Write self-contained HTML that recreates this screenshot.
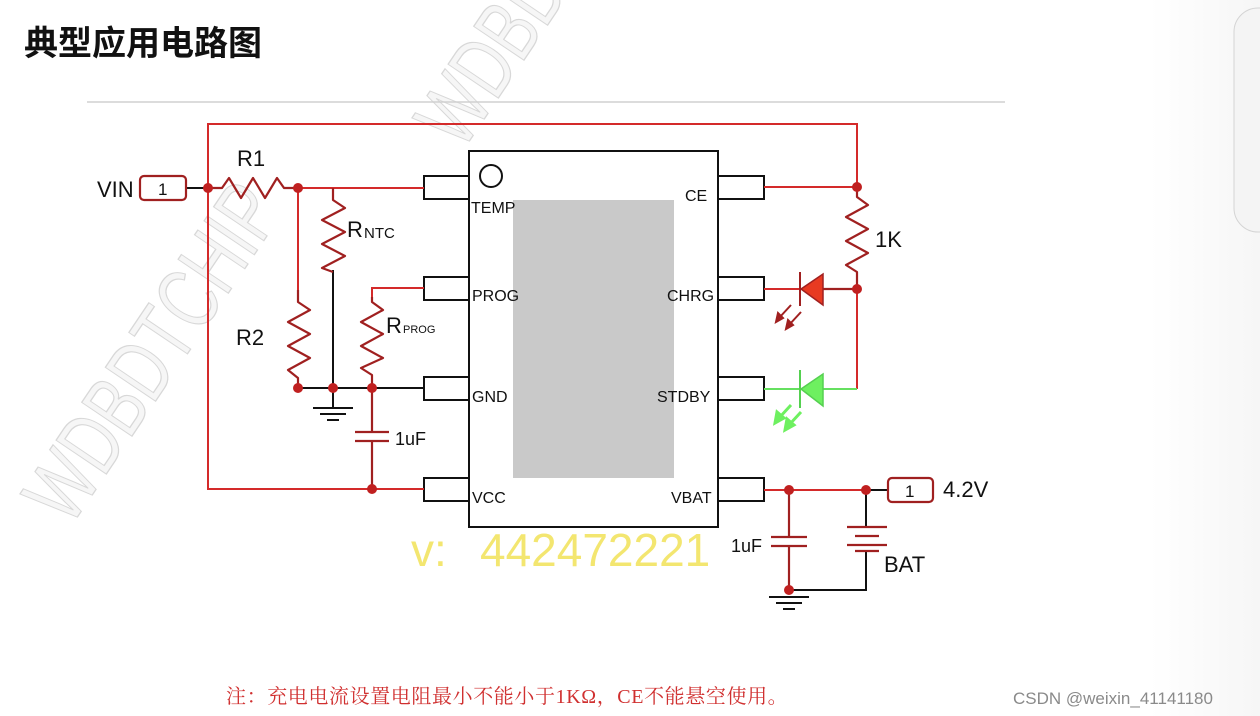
<!DOCTYPE html>
<html><head><meta charset="utf-8"><style>
html,body{margin:0;padding:0;background:#fff;}
svg{display:block;}
</style></head><body>
<svg width="1260" height="716" viewBox="0 0 1260 716" xmlns="http://www.w3.org/2000/svg">
<defs>
<linearGradient id="rg" x1="0" x2="1"><stop offset="0" stop-color="#fff"/><stop offset="1" stop-color="#f0f0f0"/></linearGradient>
</defs>
<rect width="1260" height="716" fill="#fff"/>
<rect x="1150" y="0" width="110" height="716" fill="url(#rg)" opacity="0.6"/>
<rect x="1234" y="8" width="60" height="224" rx="24" fill="#f4f4f4" stroke="#d4d4d4"/>

<!-- watermark -->
<g font-family="Liberation Sans, sans-serif" font-size="88" fill="#f6f6f6" stroke="#d8d8d8" stroke-width="1.3">
<text transform="translate(70,528) rotate(-56) scale(0.72,1)">WDBDTCHIP</text>
<text transform="translate(462,152) rotate(-56) scale(0.72,1)">WDBDTCHIP</text>
</g>

<text x="24" y="55" font-family="Liberation Sans, Noto Sans CJK SC, sans-serif" font-size="34" font-weight="bold" fill="#111">典型应用电路图</text>
<line x1="87" y1="102" x2="1005" y2="102" stroke="#d0d0d0" stroke-width="1.5"/>

<g font-family="Liberation Sans, sans-serif">
<rect x="513" y="200" width="161" height="278" fill="#c9c9c9"/>
<rect x="469" y="151" width="249" height="376" fill="none" stroke="#111" stroke-width="2"/>
<circle cx="491" cy="176" r="11" fill="none" stroke="#111" stroke-width="2"/>
<g fill="none" stroke="#111" stroke-width="2">
<rect x="424" y="176" width="45" height="23"/><rect x="424" y="277" width="45" height="23"/>
<rect x="424" y="377" width="45" height="23"/><rect x="424" y="478" width="45" height="23"/>
<rect x="718" y="176" width="46" height="23"/><rect x="718" y="277" width="46" height="23"/>
<rect x="718" y="377" width="46" height="23"/><rect x="718" y="478" width="46" height="23"/>
</g>
<g font-size="16" fill="#111">
<text x="471" y="213">TEMP</text><text x="472" y="301">PROG</text><text x="472" y="402">GND</text><text x="472" y="503">VCC</text>
<text x="685" y="201">CE</text><text x="667" y="301">CHRG</text><text x="657" y="402">STDBY</text><text x="671" y="503">VBAT</text>
</g>

<g fill="none" stroke="#d42a2a" stroke-width="2">
<polyline points="208,188 208,124 857,124 857,187 764,187"/>
<polyline points="208,188 208,489 424,489"/>
<polyline points="298,188 424,188"/>
<polyline points="298,188 298,290"/>
<polyline points="424,288 372,288 372,297"/>
<polyline points="764,289 800,289"/>
<polyline points="857,275 857,389"/>
<polyline points="764,490 888,490"/>
</g>
<line x1="857" y1="389" x2="764" y2="389" stroke="#66e060" stroke-width="2"/>
<g fill="none" stroke="#111" stroke-width="2">
<line x1="186" y1="188" x2="208" y2="188"/>
<line x1="298" y1="388" x2="424" y2="388"/>
<line x1="333" y1="270" x2="333" y2="408"/>
<line x1="313" y1="408" x2="353" y2="408"/><line x1="320" y1="414" x2="346" y2="414"/><line x1="327" y1="420" x2="339" y2="420"/>
<line x1="866" y1="490" x2="888" y2="490"/>
<polyline points="866,490 866,527"/>
<polyline points="866,551 866,590 789,590"/>
<line x1="769" y1="597" x2="809" y2="597"/><line x1="776" y1="603" x2="802" y2="603"/><line x1="783" y1="609" x2="795" y2="609"/>
</g>
<g fill="none" stroke="#a02020" stroke-width="2.2" stroke-linejoin="round">
<polyline points="212,188 222,188 229,178 241,198 253,178 265,198 277,178 284,188 298,188"/>
<polyline points="298,290 298,302 310,310 288,322 310,334 288,346 310,358 288,370 298,378 298,388"/>
<polyline points="333,188 333,200 345,208 322,220 345,232 322,244 345,256 322,268 333,272"/>
<polyline points="372,297 372,302 383,310 361,322 383,334 361,346 383,358 361,368 372,375 372,388"/>
<polyline points="857,187 857,197 868,205 846,217 868,229 846,241 868,253 846,265 857,272 857,289"/>
<line x1="372" y1="388" x2="372" y2="432"/><line x1="355" y1="432" x2="389" y2="432"/><line x1="355" y1="441" x2="389" y2="441"/><line x1="372" y1="441" x2="372" y2="489"/>
<line x1="789" y1="490" x2="789" y2="537"/><line x1="771" y1="537" x2="807" y2="537"/><line x1="771" y1="546" x2="807" y2="546"/><line x1="789" y1="546" x2="789" y2="590"/>
<line x1="847" y1="527" x2="887" y2="527"/><line x1="855" y1="536" x2="879" y2="536"/><line x1="847" y1="545" x2="887" y2="545"/><line x1="855" y1="551" x2="879" y2="551"/>
<line x1="823" y1="289" x2="857" y2="289"/>
<rect x="140" y="176" width="46" height="24" rx="4"/>
<rect x="888" y="478" width="45" height="24" rx="4"/>
</g>
<polygon points="801,289 823,274 823,305" fill="#e83a22" stroke="#a02020" stroke-width="1.5"/>
<line x1="800" y1="272" x2="800" y2="306" stroke="#a02020" stroke-width="2"/>
<g stroke="#a02020" stroke-width="2" fill="#a02020">
<line x1="791" y1="305" x2="779" y2="318"/><polygon points="776,322 778,313 783,318"/>
<line x1="801" y1="312" x2="789" y2="325"/><polygon points="786,329 788,320 793,325"/>
</g>
<polygon points="801,389 823,374 823,406" fill="#6ef060" stroke="#55d050" stroke-width="1.5"/>
<line x1="800" y1="370" x2="800" y2="408" stroke="#55d050" stroke-width="2"/>
<g stroke="#6ef060" stroke-width="3" fill="#6ef060">
<line x1="791" y1="405" x2="779" y2="418"/><polygon points="775,423 777,412 784,418"/>
<line x1="801" y1="412" x2="789" y2="425"/><polygon points="785,430 787,419 794,425"/>
</g>
<g fill="#c02020">
<circle cx="208" cy="188" r="5"/><circle cx="298" cy="188" r="5"/><circle cx="298" cy="388" r="5"/>
<circle cx="333" cy="388" r="5"/><circle cx="372" cy="388" r="5"/><circle cx="372" cy="489" r="5"/>
<circle cx="857" cy="187" r="5"/><circle cx="857" cy="289" r="5"/><circle cx="789" cy="490" r="5"/>
<circle cx="866" cy="490" r="5"/><circle cx="789" cy="590" r="5"/>
</g>
<g fill="#111" font-size="22">
<text x="97" y="197">VIN</text><text x="158" y="195" font-size="17">1</text>
<text x="237" y="166">R1</text><text x="236" y="345">R2</text>
<text x="347" y="237">R</text><text x="364" y="238" font-size="15">NTC</text>
<text x="386" y="333">R</text><text x="403" y="333" font-size="11">PROG</text>
<text x="395" y="445" font-size="18">1uF</text>
<text x="875" y="247">1K</text>
<text x="905" y="497" font-size="17">1</text><text x="943" y="497">4.2V</text>
<text x="731" y="552" font-size="18">1uF</text>
<text x="884" y="572">BAT</text>
</g>
</g>
<g font-family="Liberation Sans, sans-serif" font-size="46" fill="#f3e670">
<text x="411" y="566">v:</text>
<text x="480" y="566">442472221</text>
</g>
<text x="226" y="703" font-family="Liberation Serif, Noto Serif CJK SC, serif" font-size="20" letter-spacing="0.6" fill="#d03030">注：充电电流设置电阻最小不能小于1KΩ，CE不能悬空使用。</text>
<text x="1013" y="704" font-family="Liberation Sans, sans-serif" font-size="17" fill="#8a8a8a">CSDN @weixin_41141180</text>
</svg>
</body></html>
